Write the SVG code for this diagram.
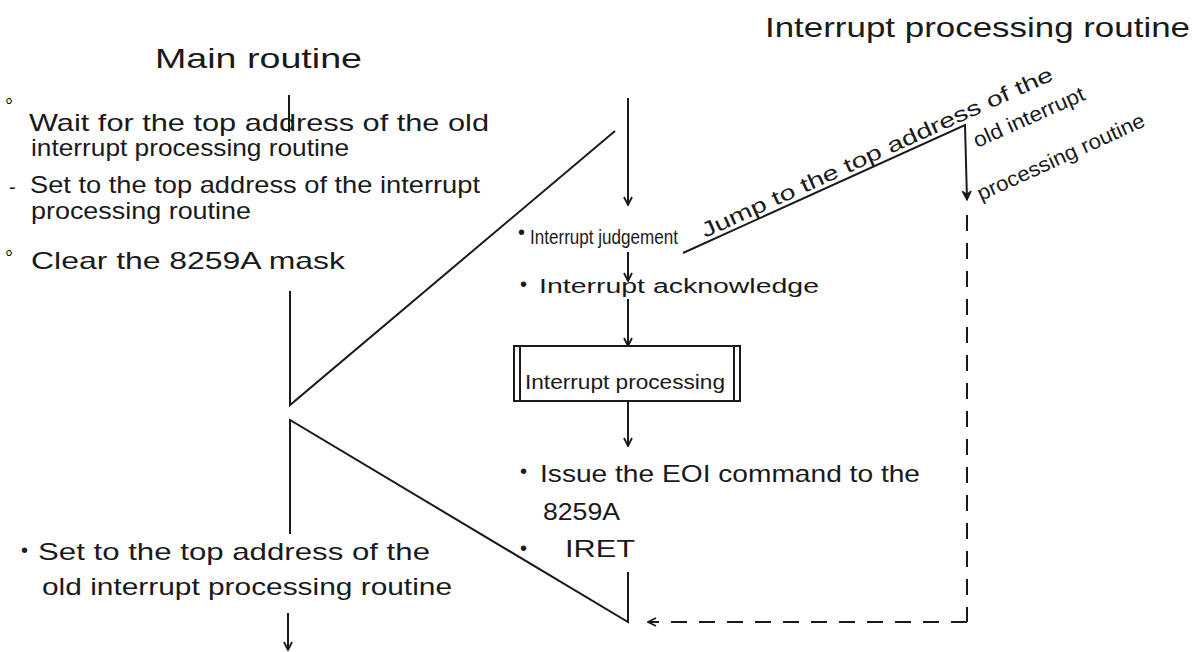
<svg xmlns="http://www.w3.org/2000/svg" width="1199" height="652" viewBox="0 0 1199 652">
<style>
  text { font-family: "Liberation Sans", "DejaVu Sans", sans-serif; fill: #1a1a1a; }
  .title { font-size: 28px; }
  .lt { font-size: 24px; }
  .mt { font-size: 20px; }
  .rt { font-size: 21px; }
  .bul { font-size: 20px; }
  .ln { stroke: #1a1a1a; stroke-width: 2; fill: none; }
  .dash { stroke: #1a1a1a; stroke-width: 2; fill: none; stroke-dasharray: 16 12; }
</style>
<defs>
  <marker id="ah" viewBox="0 0 10 10" refX="9" refY="5" markerWidth="10" markerHeight="10" markerUnits="userSpaceOnUse" orient="auto">
    <path d="M1,1 L9,5 L1,9" fill="none" stroke="#1a1a1a" stroke-width="1.8"/>
  </marker>
  <marker id="ahf" viewBox="0 0 10 10" refX="9" refY="5" markerWidth="11" markerHeight="11" markerUnits="userSpaceOnUse" orient="auto">
    <path d="M1,1 L9,5 L1,9 L4,5 Z" fill="#1a1a1a" stroke="#1a1a1a" stroke-width="1.2"/>
  </marker>
</defs>
<rect width="1199" height="652" fill="#ffffff"/>

<g id="title-main"><text class="title" x="155" y="68" textLength="207" lengthAdjust="spacingAndGlyphs">Main routine</text></g>
<g id="title-int"><text class="title" x="765" y="37" textLength="425" lengthAdjust="spacingAndGlyphs">Interrupt processing routine</text></g>

<g id="main-steps1">
  <text class="bul" x="5" y="113">°</text>
  <text class="lt" x="29" y="131" textLength="460" lengthAdjust="spacingAndGlyphs">Wait for the top address of the old</text>
  <text class="lt" x="31" y="156" textLength="318" lengthAdjust="spacingAndGlyphs">interrupt processing routine</text>
  <text class="bul" x="9" y="194">-</text>
  <text class="lt" x="30" y="193" textLength="450" lengthAdjust="spacingAndGlyphs">Set to the top address of the interrupt</text>
  <text class="lt" x="31" y="219" textLength="220" lengthAdjust="spacingAndGlyphs">processing routine</text>
  <text class="bul" x="5" y="265">°</text>
  <text class="lt" x="31" y="269" textLength="314" lengthAdjust="spacingAndGlyphs">Clear the 8259A mask</text>
</g>

<g id="main-steps2">
  <text class="bul" x="21" y="557">•</text>
  <text class="lt" x="38" y="560" textLength="392" lengthAdjust="spacingAndGlyphs">Set to the top address of the</text>
  <text class="lt" x="42" y="595" textLength="410" lengthAdjust="spacingAndGlyphs">old interrupt processing routine</text>
</g>

<g id="int-judge">
  <text class="bul" x="518" y="239">•</text>
  <text class="mt" font-size="19" x="530" y="244" textLength="148" lengthAdjust="spacingAndGlyphs">Interrupt judgement</text>
</g>
<g id="int-ack">
  <text class="bul" x="520" y="291">•</text>
  <text class="mt" x="539" y="293" textLength="280" lengthAdjust="spacingAndGlyphs">Interrupt acknowledge</text>
</g>
<g id="int-proc">
  <rect x="514" y="346" width="226" height="55" class="ln"/>
  <line x1="520" y1="346" x2="520" y2="401" class="ln"/>
  <line x1="734" y1="346" x2="734" y2="401" class="ln"/>
  <text class="mt" x="525" y="389" textLength="200" lengthAdjust="spacingAndGlyphs">Interrupt processing</text>
</g>
<g id="int-eoi">
  <text class="bul" x="520" y="478">•</text>
  <text class="lt" x="540" y="482" textLength="380" lengthAdjust="spacingAndGlyphs">Issue the EOI command to the</text>
  <text class="lt" x="543" y="520" textLength="77" lengthAdjust="spacingAndGlyphs">8259A</text>
</g>
<g id="int-iret">
  <text class="bul" x="520" y="555">•</text>
  <text class="lt" x="565" y="557" textLength="70" lengthAdjust="spacingAndGlyphs">IRET</text>
</g>

<g id="jump-label">
  <text class="rt" transform="translate(705,238) rotate(-24.4)" textLength="384" lengthAdjust="spacingAndGlyphs">Jump to the top address of the</text>
  <text class="rt" font-size="20" transform="translate(977,148) rotate(-24)" textLength="120" lengthAdjust="spacingAndGlyphs">old interrupt</text>
  <text class="rt" font-size="20" transform="translate(981,201) rotate(-24.5)" textLength="182" lengthAdjust="spacingAndGlyphs">processing routine</text>
</g>

<g id="connectors">
  <line x1="289" y1="95" x2="289" y2="132" class="ln"/>
  <polyline points="290,291 290,405 615,131" class="ln"/>
  <line x1="628" y1="98" x2="628" y2="205" class="ln" marker-end="url(#ah)"/>
  <line x1="628" y1="252" x2="628" y2="281" class="ln" marker-end="url(#ah)"/>
  <line x1="628" y1="299" x2="628" y2="346" class="ln" marker-end="url(#ah)"/>
  <line x1="628" y1="401" x2="628" y2="446" class="ln" marker-end="url(#ah)"/>
  <polyline points="290,534 290,420 628,622 628,572" class="ln"/>
  <line x1="288" y1="613" x2="288" y2="650" class="ln" marker-end="url(#ah)"/>
  <polyline points="683,253 965,125 967,200" class="ln" marker-end="url(#ahf)"/>
  <line x1="967" y1="215" x2="967" y2="622" class="dash"/>
  <line x1="967" y1="622" x2="648" y2="622" class="dash" marker-end="url(#ah)"/>
</g>
</svg>
